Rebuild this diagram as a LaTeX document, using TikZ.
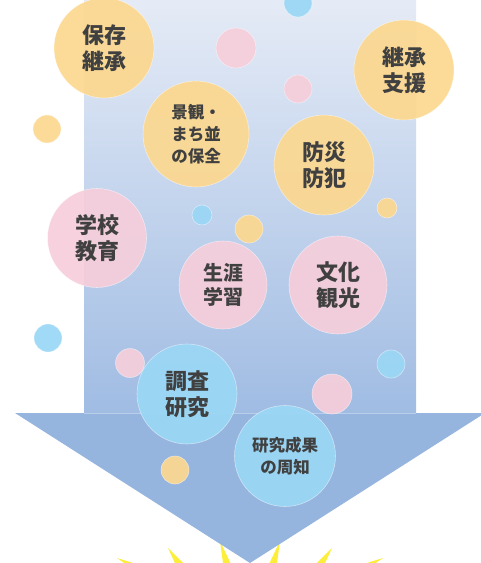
\documentclass[tikz,border=0pt]{standalone}
\usepackage{fontspec}
\newfontfamily\jp{Noto Sans CJK JP}
\usetikzlibrary{calc}
\definecolor{corg}{HTML}{FCD890}
\definecolor{cpnk}{HTML}{F6CEDB}
\definecolor{ccyn}{HTML}{9AD7F5}
\definecolor{ctxt}{HTML}{404040}
\definecolor{cshtop}{HTML}{E5EBF6}
\definecolor{cshbot}{HTML}{A0BCE3}
\definecolor{ctri}{HTML}{95B4DE}
\definecolor{cray}{HTML}{FCEE3A}
\begin{document}
\begin{tikzpicture}[x=1pt,y=-1pt,
  bub/.style={circle, inner sep=0pt, minimum size=#1, draw=white, draw opacity=0.5, line width=0.6pt, fill opacity=0.93, text opacity=1},
  org/.style={fill=corg}, pnk/.style={fill=cpnk}, cyn/.style={fill=ccyn},
  big/.style={text=ctxt, align=center, font=\jp\bfseries\fontsize{22}{25.5}\selectfont},
  mid/.style={text=ctxt, align=center, font=\jp\bfseries\fontsize{20}{24}\selectfont},
  sml/.style={text=ctxt, align=center, font=\jp\bfseries\fontsize{16.5}{22}\selectfont},
  raystyle/.style={fill=cray}]
\useasboundingbox (0,0) rectangle (481,563);
% rays
\foreach \tx/\ty/\bx/\by in {117/558/152/575, 168/548/187/575, 220/541/231/578, 280/541/269/578, 332/548/313/575, 383/558/348/575}{
  \fill[raystyle] (\tx,\ty) -- ($(\bx,\by)!6pt!90:(\tx,\ty)$) -- ($(\bx,\by)!6pt!-90:(\tx,\ty)$) -- cycle;
}
% shaft and head
\shade[top color=cshtop, bottom color=cshbot] (84,0) rectangle (416,413);
\fill[ctri] (15,413) -- (485,413) -- (250,563) -- cycle;
\draw[white, opacity=0.35, line width=0.6pt] (84,413) -- (416,413);
% small bubbles
\node[bub=28, cyn] (s1) at (298,3) {};
\node[bub=40, pnk] (s2) at (236,48) {};
\node[bub=28, pnk] (s3) at (298,89) {};
\node[bub=28, org] (s4) at (47,129) {};
\node[bub=20, org] (s5) at (387,208) {};
\node[bub=20, cyn] (s6) at (202,215) {};
\node[bub=28, org] (s7) at (249,229) {};
\node[bub=28, cyn] (s8) at (48,338) {};
\node[bub=29, pnk] (s9) at (130,363) {};
\node[bub=28, cyn] (s10) at (391,364) {};
\node[bub=40, pnk] (s11) at (332,394) {};
\node[bub=28, org] (s12) at (175,470) {};
% big bubbles
\node[bub=100, org, big] (hozon) at (104,48) {保存\\継承};
\node[bub=100, org, big] (keisho) at (404,70) {継承\\支援};
\node[bub=106, org, sml] (keikan) at (196,134) {景観・\\まち並\\の保全};
\node[bub=100, org, big] (bosai) at (324,165) {防災\\防犯};
\node[bub=99, pnk, big] (gakko) at (97,238) {学校\\教育};
\node[bub=88, pnk, mid] (shogai) at (223,285) {生涯\\学習};
\node[bub=98, pnk, big] (bunka) at (338,285) {文化\\観光};
\node[bub=100, cyn, big] (chosa) at (187,394) {調査\\研究};
\node[bub=101, cyn, sml] (seika) at (285,456) {研究成果\\の周知};
\end{tikzpicture}
\end{document}
